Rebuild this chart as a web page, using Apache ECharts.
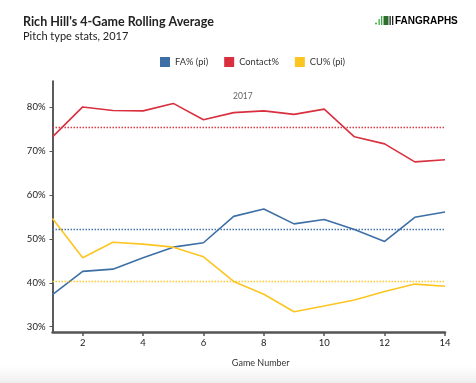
<!DOCTYPE html>
<html><head><meta charset="utf-8">
<script src="https://cdn.jsdelivr.net/npm/echarts@6/dist/echarts.min.js"></script>
<style>html,body{margin:0;padding:0;background:#fff}#c{width:476px;height:383px}</style>
</head><body><div id="c"></div>
<script>
const games = [1,2,3,4,5,6,7,8,9,10,11,12,13,14];
const faPct = [37.3,42.6,43.1,45.7,48.1,49.1,55.1,56.8,53.4,54.4,52.1,49.4,54.9,56.1];
const contactPct = [73.2,80.0,79.2,79.1,80.8,77.1,78.7,79.1,78.3,79.5,73.2,71.6,67.5,68.0];
const cuPct = [54.6,45.7,49.2,48.8,48.1,45.9,40.3,37.4,33.4,34.7,36.1,38.0,39.7,39.2];
const seasonAvg = {fa: 52.2, contact: 75.3, cu: 40.3};
const seriesNames = ['FA% (pi)','Contact%','CU% (pi)'];
const xTicks = [2,4,6,8,10,12,14];
const yTicks = [30,40,50,60,70,80];
const colors = ['#3d6fa6','#d8303f','#fdc521'];
const FONT = 'Lato, "Open Sans", sans-serif';

function pairs(vals){ return games.map((g,i)=>[g, vals[i]]); }
function mk(name, vals, color, avg){
  return {
    name, type:'line', data: pairs(vals), symbol:'none', smooth:false,
    lineStyle:{color, width:1.6}, itemStyle:{color},
    markLine:{silent:true, symbol:'none', label:{show:false},
      lineStyle:{color, type:[1.5,1.5], width:1.3, opacity:0.95},
      data:[{yAxis: avg}]}
  };
}
const chart = echarts.init(document.getElementById('c'), null, {renderer:'canvas'});
chart.setOption({
  animation:false,
  backgroundColor:'#fff',
  textStyle:{fontFamily:FONT},
  title:[
    {text:"Rich Hill's 4-Game Rolling Average", left:18, top:10,
     textStyle:{fontFamily:FONT, fontWeight:'bold', fontSize:12.5, color:'#222'}},
    {text:'Pitch type stats, 2017', left:18, top:26,
     textStyle:{fontFamily:FONT, fontWeight:'normal', fontSize:11, color:'#222'}},
    {text:'2017', left:228, top:87,
     textStyle:{fontFamily:FONT, fontWeight:'normal', fontSize:8.5, color:'#666'}}
  ],
  legend:{
    data:seriesNames, left:155, top:52, itemWidth:10, itemHeight:10, itemGap:16,
    icon:'rect', textStyle:{fontFamily:FONT, fontSize:9.3, color:'#333'},
    selectedMode:false
  },
  grid:{left:52.5, right:31, top:81, bottom:51, containLabel:false},
  xAxis:{
    type:'value', min:1, max:14,
    name:'Game Number', nameLocation:'middle', nameGap:27,
    nameTextStyle:{fontFamily:FONT, fontSize:9, color:'#333', padding:[0,0,0,24]},
    axisLine:{show:true, onZero:false, lineStyle:{color:'#555', width:2.5}},
    axisTick:{show:true, customValues:xTicks, length:4, lineStyle:{color:'#555', width:1.5}},
    axisLabel:{customValues:xTicks, fontFamily:FONT, fontSize:9.5, color:'#222', margin:6},
    splitLine:{show:false}
  },
  yAxis:{
    type:'value', min:28.8, max:85.9,
    axisLine:{show:true, onZero:false, lineStyle:{color:'#333', width:1.6}},
    axisTick:{show:true, customValues:yTicks, length:3, lineStyle:{color:'#555'}},
    axisLabel:{customValues:yTicks, formatter:v=>Math.round(v)+'%', fontFamily:FONT, fontSize:9.5, color:'#222', margin:7},
    splitLine:{show:false}
  },
  series:[
    mk(seriesNames[0], faPct, colors[0], seasonAvg.fa),
    mk(seriesNames[1], contactPct, colors[1], seasonAvg.contact),
    mk(seriesNames[2], cuPct, colors[2], seasonAvg.cu)
  ],
  graphic:[
    {type:'rect', left:0, top:366, shape:{width:476, height:17}, silent:true,
     style:{fill:new echarts.graphic.LinearGradient(0,0,0,1,[{offset:0,color:'rgba(240,240,240,0)'},{offset:1,color:'#eeeeee'}])}},
    {type:'circle', shape:{cx:376, cy:23.5, r:1}, style:{fill:'#3cb043'}},
    {type:'rect', shape:{x:378.5, y:19, width:1.3, height:6}, style:{fill:'#3cb043'}},
    {type:'rect', shape:{x:381, y:16, width:1.3, height:9}, style:{fill:'#3cb043'}},
    {type:'rect', shape:{x:383.5, y:16, width:5, height:9}, style:{fill:'#2c6e2c'}},
    {type:'rect', shape:{x:389.5, y:16, width:1.3, height:9}, style:{fill:'#222'}},
    {type:'rect', shape:{x:392, y:16, width:1.3, height:9}, style:{fill:'#222'}},
    {type:'text', left:395, top:16, style:{
      text:'{a|FAN}{b|GRAPHS}',
      rich:{a:{fontFamily:'Arial, Liberation Sans, sans-serif', fontWeight:'bold', fontSize:10, color:'#222'},
            b:{fontFamily:'Arial, Liberation Sans, sans-serif', fontWeight:'bold', fontSize:10, color:'#3cb043'}}
    }}
  ]
});
</script></body></html>
